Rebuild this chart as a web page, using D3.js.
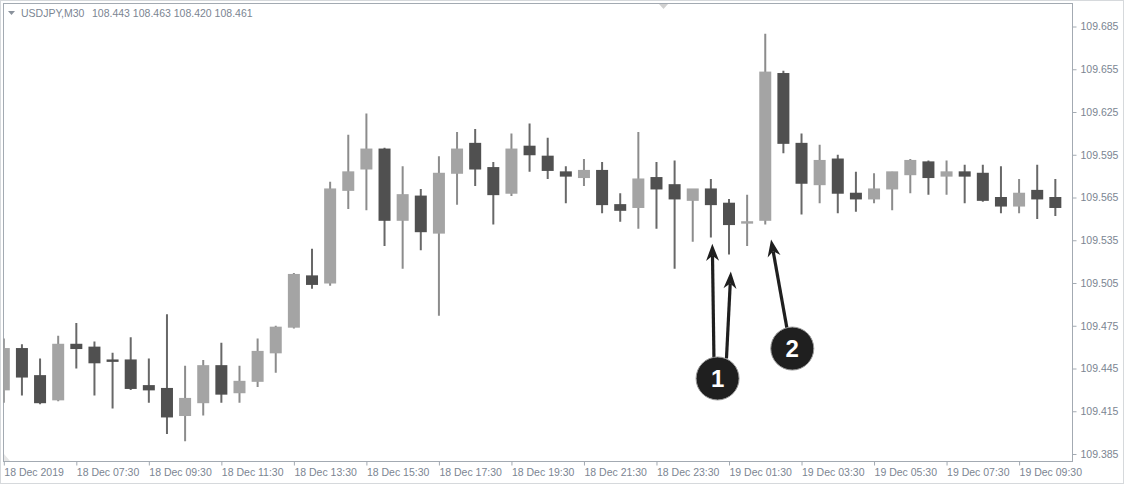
<!DOCTYPE html>
<html>
<head>
<meta charset="utf-8">
<script src="https://cdn.jsdelivr.net/npm/d3@7"></script>
<style>
  html, body { margin: 0; padding: 0; background: #fff; }
  svg { display: block; }
  text { font-family: "Liberation Sans", Arial, sans-serif; }
</style>
</head>
<body>
<svg id="chart" width="1130" height="490"></svg>
<script>
// USDJPY M30 bars, 18 Dec 05:30 to 19 Dec 10:30
const open  = [109.430,109.459,109.440,109.423,109.462,109.460,109.451,109.451,109.433,109.431,
               109.412,109.421,109.447,109.428,109.436,109.456,109.474,109.510,109.505,109.570,
               109.585,109.599,109.549,109.566,109.540,109.582,109.603,109.586,109.568,109.601,
               109.594,109.583,109.579,109.584,109.560,109.558,109.579,109.574,109.563,109.571,
               109.561,109.547,109.549,109.652,109.603,109.574,109.592,109.568,109.564,109.571,
               109.581,109.590,109.580,109.583,109.582,109.565,109.559,109.570,109.565];
const high  = [109.466,109.462,109.452,109.468,109.477,109.464,109.456,109.467,109.452,109.483,
               109.447,109.451,109.463,109.447,109.466,109.475,109.512,109.529,109.576,109.609,
               109.624,109.600,109.587,109.571,109.594,109.611,109.613,109.590,109.610,109.617,
               109.607,109.587,109.592,109.590,109.568,109.611,109.590,109.591,109.571,109.578,
               109.564,109.567,109.680,109.654,109.610,109.602,109.595,109.583,109.582,109.583,
               109.592,109.591,109.591,109.588,109.588,109.587,109.578,109.588,109.578];
const low   = [109.421,109.426,109.420,109.422,109.445,109.426,109.417,109.430,109.421,109.399,
               109.394,109.412,109.421,109.421,109.432,109.442,109.473,109.501,109.503,109.557,
               109.556,109.531,109.515,109.528,109.482,109.560,109.573,109.546,109.566,109.583,
               109.578,109.561,109.573,109.554,109.548,109.543,109.543,109.515,109.534,109.537,
               109.525,109.531,109.546,109.596,109.553,109.561,109.554,109.555,109.561,109.556,
               109.568,109.567,109.567,109.561,109.562,109.554,109.554,109.550,109.552];
const close = [109.459,109.439,109.421,109.462,109.459,109.449,109.450,109.431,109.430,109.411,
               109.424,109.447,109.427,109.436,109.457,109.474,109.511,109.504,109.571,109.583,
               109.599,109.549,109.567,109.541,109.582,109.599,109.585,109.567,109.599,109.595,
               109.584,109.580,109.584,109.560,109.556,109.578,109.571,109.564,109.571,109.560,
               109.546,109.548,109.653,109.603,109.575,109.591,109.568,109.564,109.571,109.583,
               109.591,109.579,109.583,109.580,109.563,109.559,109.568,109.564,109.558];

// Time axis labels, one every four bars
const xTickBars   = [0, 4, 8, 12, 16, 20, 24, 28, 32, 36, 40, 44, 48, 52, 56];
const xTickLabels = ["18 Dec 2019","18 Dec 07:30","18 Dec 09:30","18 Dec 11:30","18 Dec 13:30",
                     "18 Dec 15:30","18 Dec 17:30","18 Dec 19:30","18 Dec 21:30","18 Dec 23:30",
                     "19 Dec 01:30","19 Dec 03:30","19 Dec 05:30","19 Dec 07:30","19 Dec 09:30"];
const yTicks = [109.385,109.415,109.445,109.475,109.505,109.535,109.565,109.595,109.625,109.655,109.685];

// Numbered markers and the bars they point to: [bar, price] for tail and tip
const markers = [
  { label: "1", center: [39.37, 109.438], arrows: [
      { tail: [39.17, 109.452], tip: [39.08, 109.5325] },
      { tail: [39.86, 109.452], tip: [40.10, 109.5130] } ] },
  { label: "2", center: [43.49, 109.459], arrows: [
      { tail: [43.20, 109.473], tip: [42.32, 109.5355] } ] }
];

const bars = open.map((o, i) => ({ i, o, h: high[i], l: low[i], c: close[i] }));

const plot = { left: 3.5, top: 3.5, right: 1072.5, bottom: 461.5 };
const textColor = "#7b8592";

const svg = d3.select("#chart");

const x = d3.scaleLinear().domain([0, 58]).range([3.8, 3.8 + 58 * 18.13]);
const y = d3.scaleLinear().domain([109.385, 109.685]).range([454, 26.5]);

// outer frame
svg.append("rect").attr("x", 0.5).attr("y", 0.5).attr("width", 1123).attr("height", 483)
  .attr("fill", "#fff").attr("stroke", "#d6d9dc");

svg.append("defs").append("clipPath").attr("id", "plotClip")
  .append("rect").attr("x", plot.left).attr("y", plot.top)
  .attr("width", plot.right - plot.left).attr("height", plot.bottom - plot.top);

// plot border
svg.append("rect").attr("x", plot.left).attr("y", plot.top)
  .attr("width", plot.right - plot.left).attr("height", plot.bottom - plot.top)
  .attr("fill", "none").attr("stroke", "#a3aab2");

// shift marker at top
svg.append("path").attr("d", "M659,4 L668,4 L663.5,9 Z").attr("fill", "#d0d0d0");
// small corner mark
svg.append("path").attr("d", "M4,454 L4,461 L10,461 Z").attr("fill", "#e6e6e6");

// candles
const g = svg.append("g").attr("clip-path", "url(#plotClip)");
const bull = d => d.c >= d.o;
const candle = g.selectAll("g.bar").data(bars).join("g").attr("class", "bar");
candle.append("line")
  .attr("x1", d => x(d.i)).attr("x2", d => x(d.i))
  .attr("y1", d => y(d.h)).attr("y2", d => y(d.l))
  .attr("stroke", d => bull(d) ? "#8c8c8c" : "#686868")
  .attr("stroke-width", 2);
candle.append("rect")
  .attr("x", d => x(d.i) - 6)
  .attr("width", 12)
  .attr("y", d => Math.min(y(d.o), y(d.c)) - 0.5)
  .attr("height", d => Math.max(Math.abs(y(d.o) - y(d.c)), 1) + 1)
  .attr("fill", d => bull(d) ? "#a4a4a4" : "#505050");

// price axis
const yAxis = svg.append("g").attr("transform", `translate(${plot.right},0)`)
  .call(d3.axisRight(y).tickValues(yTicks).tickFormat(d3.format(".3f")).tickSize(4).tickPadding(4));
yAxis.select(".domain").remove();
yAxis.selectAll(".tick line").attr("stroke", "#a3aab2");
yAxis.selectAll(".tick text").attr("fill", textColor)
  .style("font-family", '"Liberation Sans", Arial, sans-serif').style("font-size", "10.5px");

// time axis
const xAxis = svg.append("g").attr("transform", `translate(0,${plot.bottom})`)
  .call(d3.axisBottom(x).tickValues(xTickBars)
    .tickFormat((d, k) => xTickLabels[k]).tickSize(4).tickPadding(3));
xAxis.select(".domain").remove();
xAxis.selectAll(".tick line").attr("stroke", "#a3aab2");
xAxis.selectAll(".tick text").attr("fill", textColor).attr("text-anchor", "start").attr("x", 0)
  .style("font-family", '"Liberation Sans", Arial, sans-serif').style("font-size", "10.5px");

// header
svg.append("path").attr("d", "M8,11 L15,11 L11.5,15 Z").attr("fill", "#8a929c");
const header = svg.append("text").attr("y", 16.5).attr("fill", textColor).style("font-size", "10.5px");
header.append("tspan").attr("x", 21).text("USDJPY,M30");
header.append("tspan").attr("x", 92).text("108.443 108.463 108.420 108.461");

// markers with arrows
const ink = "#1f1f1f";
const ann = svg.append("g");
markers.forEach(m => {
  m.arrows.forEach(a => {
    const x0 = x(a.tail[0]), y0 = y(a.tail[1]);
    const x1 = x(a.tip[0]),  y1 = y(a.tip[1]);
    const ang = Math.atan2(y1 - y0, x1 - x0);
    const len = 17, half = 6.5, notch = 12;
    const ux = Math.cos(ang), uy = Math.sin(ang), px = -uy, py = ux;
    const bx = x1 - ux * len, by = y1 - uy * len;
    const nx = x1 - ux * notch, ny = y1 - uy * notch;
    ann.append("line").attr("x1", x0).attr("y1", y0).attr("x2", nx).attr("y2", ny)
      .attr("stroke", ink).attr("stroke-width", 3.2);
    ann.append("path")
      .attr("d", `M${x1},${y1} L${bx + px * half},${by + py * half} L${nx},${ny} L${bx - px * half},${by - py * half} Z`)
      .attr("fill", ink);
  });
  const cx = x(m.center[0]), cy = y(m.center[1]);
  ann.append("circle").attr("cx", cx).attr("cy", cy).attr("r", 21.5)
    .attr("fill", ink).attr("stroke", "#9a9a9a").attr("stroke-width", 1);
  ann.append("text").attr("x", cx).attr("y", cy + 8.5).attr("text-anchor", "middle")
    .attr("fill", "#fff").style("font-size", "24px").style("font-weight", "bold")
    .text(m.label);
});
</script>
</body>
</html>
